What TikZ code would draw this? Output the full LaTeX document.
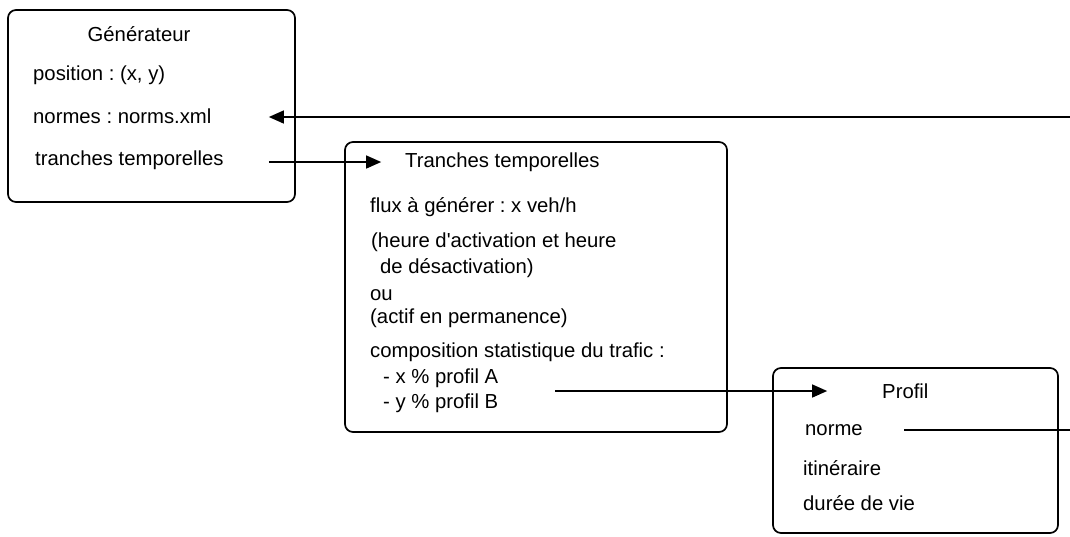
\documentclass[tikz,border=0pt]{standalone}
\usepackage{fontspec}
\setmainfont{Liberation Sans}[Ligatures=TeXOff]
\usetikzlibrary{arrows.meta,calc}
\frenchspacing
\begin{document}
\begin{tikzpicture}[x=1pt,y=-1pt,
  box/.style={draw=black,line width=1.7pt,rounded corners=8pt,inner sep=0pt},
  txt/.style={anchor=west,inner sep=0pt,text height=14pt,text depth=4pt,font=\fontsize{20.3}{24}\selectfont\frenchspacing},
  ttl/.style={txt,anchor=center},
  conn/.style={draw=black,line width=1.4pt},
  arr/.style={conn,-{Triangle[length=15pt,width=13pt]}}]
\useasboundingbox (0,0) rectangle (1070,536);
% boxes
\node[box,minimum width=287pt,minimum height=192pt] (gen) at (151.5,106) {};
\node[box,minimum width=382pt,minimum height=290pt] (tt) at (536,287) {};
\node[box,minimum width=285pt,minimum height=165pt] (prof) at (915.5,450.5) {};
% Generateur texts
\node[ttl] (gtitle) at (139,36) {Générateur};
\node[txt] (gpos) at (33,75) {position : (x, y)};
\node[txt] (gno) at (33,118) {normes : norms.xml};
\node[txt] (gtr) at (35,160) {tranches temporelles};
% Tranches texts
\node[txt] (ttitle) at (405,162) {Tranches temporelles};
\node[txt] (tflux) at (370,207) {flux à générer : x veh/h};
\node[txt] (th1) at (371,242) {(heure d'activation et heure};
\node[txt] (th2) at (380,268) {de désactivation)};
\node[txt] (tou) at (370,295) {ou};
\node[txt] (tact) at (370,318) {(actif en permanence)};
\node[txt] (tcomp) at (370,352) {composition statistique du trafic :};
\node[txt] (pA) at (383,378) {- x \% profil A};
\node[txt] (pB) at (383,403) {- y \% profil B};
% Profil texts
\node[txt] (ptitle) at (882,393) {Profil};
\node[txt] (pnorme) at (805,430) {norme};
\node[txt] (pitin) at (803,470) {itinéraire};
\node[txt] (pvie) at (803,505) {durée de vie};
% free ends at the right edge
\coordinate (rightA) at (1070,117);
\coordinate (rightB) at (1070,430);
% connectors
\draw[arr] (rightA) -- ($(gen.east |- rightA)+(-27,0)$);
\draw[arr] ($(gen.east |- gtr)+(-27,2)$) -- ($(tt.west |- gtr)+(37,2)$);
\draw[arr] ($(tt.west |- pA)+(211,13)$) -- ($(prof.west |- pA)+(55,13)$);
\draw[conn] ($(prof.west |- pnorme)+(132,0)$) -- (rightB);
\end{tikzpicture}
\end{document}
